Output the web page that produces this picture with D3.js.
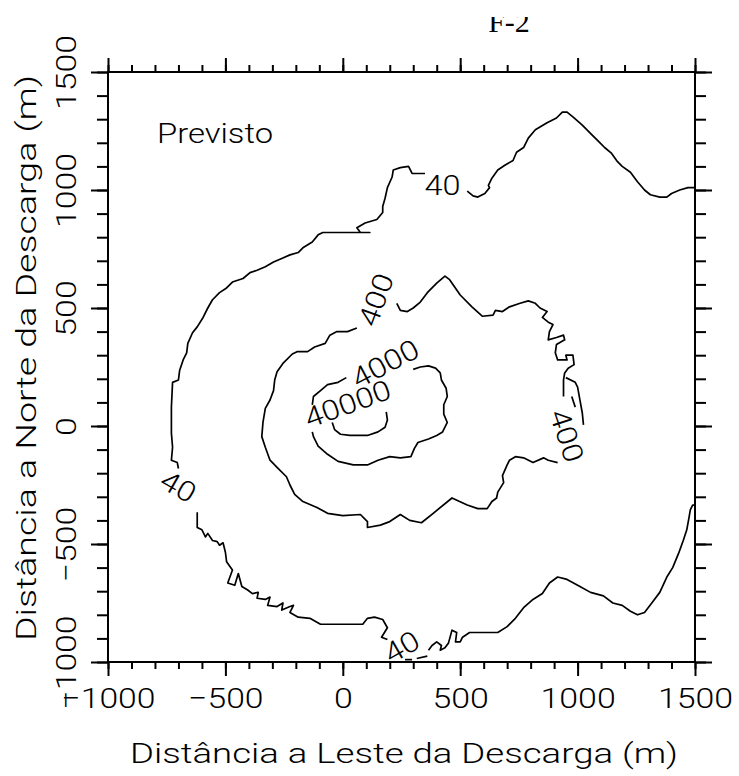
<!DOCTYPE html>
<html>
<head>
<meta charset="utf-8">
<script src="https://cdn.jsdelivr.net/npm/d3@7"></script>
<style>
  html, body { margin: 0; padding: 0; background: #fff; }
  svg { display: block; }
  .lbl { font-family: Roboto, "DejaVu Sans", sans-serif; font-weight: 300; fill: #000; }
</style>
</head>
<body>
<svg id="chart" width="739" height="776"></svg>
<script>
// ---------------- data (metres) ----------------
const chartTitle = "F-2";
const panelLabel = "Previsto";
const xAxisTitle = "Distância a Leste da Descarga (m)";
const yAxisTitle = "Distância a Norte da Descarga (m)";
const xDomain = [-1000, 1500];
const yDomain = [-1000, 1500];
const xTickValues = [-1000, -500, 0, 500, 1000, 1500];
const yTickValues = [-1000, -500, 0, 500, 1000, 1500];

// contour level 40 (outer), split at its labels
const contour40a = [[1500,1010],[1470,1010],[1435,1000],[1400,985],[1380,970],[1350,970],[1310,980],[1285,1000],[1255,1035],[1225,1075],[1190,1100],[1170,1120],[1145,1155],[1115,1180],[1085,1210],[1060,1235],[1020,1275],[980,1310],[955,1330],[935,1330],[910,1305],[870,1285],[820,1255],[790,1220],[770,1180],[740,1160],[725,1125],[690,1105],[660,1085],[635,1050],[620,1020],[625,1010],[605,985],[575,970],[555,975],[530,995]];
const contour40b = [[350,1070],[335,1070],[295,1070],[280,1100],[245,1095],[215,1085],[210,1055],[190,1010],[180,965],[170,930],[170,905],[145,875],[95,860],[60,840],[75,820],[115,820],[-85,820],[-105,810],[-130,780],[-170,755],[-190,735],[-225,725],[-260,710],[-295,695],[-330,675],[-365,660],[-395,650],[-425,625],[-470,610],[-495,585],[-525,565],[-555,535],[-575,500],[-595,460],[-620,420],[-640,395],[-660,350],[-665,310],[-680,280],[-695,235],[-700,195],[-725,185],[-730,80],[-730,-30],[-725,-90],[-730,-145],[-705,-155],[-700,-180]];
const contour40c = [[-620,-365],[-620,-430],[-600,-440],[-585,-470],[-575,-455],[-555,-485],[-535,-490],[-525,-505],[-510,-495],[-500,-535],[-495,-575],[-470,-610],[-490,-665],[-460,-675],[-445,-625],[-430,-680],[-405,-695],[-385,-710],[-360,-705],[-365,-730],[-330,-735],[-310,-725],[-320,-760],[-280,-765],[-255,-750],[-260,-780],[-225,-765],[-210,-760],[-225,-790],[-190,-810],[-140,-815],[-95,-840],[85,-840],[105,-815],[135,-810],[170,-820],[190,-855],[165,-895],[190,-905]];
const contour40d = [[265,-990],[295,-990]];
const contour40e = [[315,-985],[360,-975]];
const contour40f = [[365,-950],[380,-930],[400,-915],[420,-930],[415,-950],[435,-940],[450,-920],[465,-865],[485,-875],[480,-915],[500,-915],[510,-895],[540,-875],[570,-875],[660,-875],[700,-850],[735,-815],[770,-770],[810,-735],[850,-710],[880,-665],[915,-640],[955,-650],[1010,-680],[1055,-705],[1110,-720],[1150,-750],[1190,-760],[1225,-785],[1255,-800],[1285,-790],[1320,-745],[1350,-705],[1380,-640],[1405,-600],[1430,-540],[1450,-485],[1465,-440],[1475,-385],[1480,-355],[1490,-335],[1500,-335]];

// contour level 400
const contour400a = [[230,520],[245,490],[275,485],[300,500],[330,525],[360,565],[400,605],[435,635],[455,620],[500,555],[550,505],[595,465],[640,470],[650,490],[680,485],[710,505],[755,520],[790,530],[820,520],[840,500],[870,485],[850,460],[875,440],[895,430],[880,400],[875,365],[910,375],[940,385],[945,365],[910,345],[905,310],[915,280],[955,280],[950,300],[980,300],[985,260],[960,245],[945,225],[940,195],[940,125]];
const contour400b = [[950,205],[990,185],[1000,165],[1010,110],[1020,55],[1025,5]];
const contour400c = [[975,125],[990,80]];
const contour400d = [[915,-155],[875,-145],[855,-135],[810,-155],[770,-135],[735,-130],[710,-145],[700,-165],[680,-210],[685,-240],[660,-280],[655,-305],[635,-320],[615,-350],[575,-350],[530,-335],[465,-305],[385,-370],[335,-410],[285,-400],[245,-375],[200,-405],[160,-420],[105,-430],[105,-405],[75,-375],[0,-380],[-65,-370],[-110,-345],[-170,-320],[-205,-290],[-225,-250],[-240,-215],[-280,-175],[-310,-145],[-330,-90],[-345,-45],[-340,15],[-330,75],[-310,110],[-295,150],[-290,195],[-280,230],[-255,265],[-215,305],[-195,315],[-150,315],[-120,335],[-75,350],[-55,385],[-25,400],[20,400],[60,415]];

// contour level 4000
const contour4000a = [[300,240],[330,250],[365,255],[395,245],[415,225],[420,195],[440,160],[445,125],[430,90],[430,50],[445,15],[425,-25],[400,-40],[365,-55],[320,-70],[305,-95],[290,-130],[245,-135],[200,-130],[150,-145],[105,-165],[45,-165],[-20,-150],[-65,-120],[-105,-85],[-125,-45],[-130,-25]];
const contour4000b = [[-130,90],[-125,125],[-95,150],[-65,175],[-20,185],[15,205]];

// contour level 40000
const contour40000a = [[-45,15],[-35,-15],[-10,-35],[30,-40],[105,-40],[150,-25],[180,-5],[190,25],[185,60]];

const contourLines = [contour40a, contour40b, contour40c, contour40d, contour40e, contour40f,
                      contour400a, contour400b, contour400c, contour400d,
                      contour4000a, contour4000b, contour40000a];

// contour labels: text, x, y (metres), angle (deg)
const labelTexts  = ["40", "40", "40", "400", "400", "4000", "40000"];
const labelX      = [425, -700, 250, 140, 955, 180, 20];
const labelY      = [1020, -255, -935, 535, -40, 265, 95];
const labelAngles = [0, 30, -30, -70, 72, -28, -20];

// ---------------- drawing ----------------
const svg = d3.select("#chart");
const mL = 108, mR = 695, mT = 72, mB = 662;
const x = d3.scaleLinear().domain(xDomain).range([mL, mR]);
const y = d3.scaleLinear().domain(yDomain).range([mB, mT]);
const FS = 28;
const charW = 18.8;
const fmt = d => d < 0 ? "\u2212" + Math.abs(d) : String(d);

// title (clipped at the top as in the original)
svg.append("clipPath").attr("id", "titleClip")
  .append("rect").attr("x", 0).attr("y", 17).attr("width", 739).attr("height", 40);
svg.append("text")
  .attr("clip-path", "url(#titleClip)")
  .attr("x", 509).attr("y", 32)
  .attr("text-anchor", "middle")
  .style("font-family", "'Liberation Serif', 'Times New Roman', serif")
  .style("font-size", "30px")
  .text(chartTitle);

// minor ticks
const minorX = x.ticks(25), minorY = y.ticks(25);
function styleAxis(g) {
  g.selectAll("path.domain").remove();
  g.selectAll("line").attr("stroke", "#000").attr("stroke-width", 2);
}
svg.append("g").attr("transform", `translate(0,${mT})`)
  .call(d3.axisTop(x).tickValues(minorX).tickSize(7).tickFormat(""))
  .call(styleAxis);
svg.append("g").attr("transform", `translate(0,${mB})`)
  .call(d3.axisBottom(x).tickValues(minorX).tickSize(7).tickFormat(""))
  .call(styleAxis);
svg.append("g").attr("transform", `translate(${mL},0)`)
  .call(d3.axisLeft(y).tickValues(minorY).tickSize(11).tickFormat(""))
  .call(styleAxis);
svg.append("g").attr("transform", `translate(${mR},0)`)
  .call(d3.axisRight(y).tickValues(minorY).tickSize(11).tickFormat(""))
  .call(styleAxis);

// major ticks
svg.append("g").attr("transform", `translate(0,${mT})`)
  .call(d3.axisTop(x).tickValues(xTickValues).tickSize(14).tickFormat(""))
  .call(styleAxis);
svg.append("g").attr("transform", `translate(${mR},0)`)
  .call(d3.axisRight(y).tickValues(yTickValues).tickSize(17).tickFormat(""))
  .call(styleAxis);

const gx = svg.append("g").attr("transform", `translate(0,${mB})`)
  .call(d3.axisBottom(x).tickValues(xTickValues).tickSize(14).tickFormat(fmt))
  .call(styleAxis);
gx.selectAll("text")
  .attr("class", "lbl")
  .attr("y", 708 - mB).attr("dy", 0)
  .style("font-size", FS + "px")
  .attr("textLength", d => fmt(d).length * charW)
  .attr("lengthAdjust", "spacingAndGlyphs");

const gy = svg.append("g").attr("transform", `translate(${mL},0)`)
  .call(d3.axisLeft(y).tickValues(yTickValues).tickSize(17).tickFormat(fmt))
  .call(styleAxis);
gy.selectAll("text")
  .attr("class", "lbl")
  .attr("x", 0).attr("y", 0).attr("dy", 0)
  .attr("text-anchor", "middle")
  .attr("transform", `translate(${76 - mL},0) rotate(-90)`)
  .style("font-size", FS + "px")
  .attr("textLength", d => fmt(d).length * charW)
  .attr("lengthAdjust", "spacingAndGlyphs");

// frame
svg.append("rect")
  .attr("x", mL).attr("y", mT)
  .attr("width", mR - mL).attr("height", mB - mT)
  .attr("fill", "none").attr("stroke", "#000").attr("stroke-width", 2);

// contours
svg.append("clipPath").attr("id", "plotClip")
  .append("rect").attr("x", mL).attr("y", mT)
  .attr("width", mR - mL).attr("height", mB - mT);
const line = d3.line().x(d => x(d[0])).y(d => y(d[1]));
svg.append("g").attr("clip-path", "url(#plotClip)")
  .selectAll("path").data(contourLines).join("path")
  .attr("d", line)
  .attr("fill", "none").attr("stroke", "#000")
  .attr("stroke-width", 1.7).attr("stroke-linejoin", "round");

// contour labels
svg.append("g").selectAll("text").data(labelTexts).join("text")
  .attr("class", "lbl")
  .attr("text-anchor", "middle")
  .attr("dy", "0.36em")
  .attr("transform", (d, i) => `translate(${x(labelX[i])},${y(labelY[i])}) rotate(${labelAngles[i]})`)
  .style("font-size", FS + "px")
  .attr("textLength", d => d.length * 18)
  .attr("lengthAdjust", "spacingAndGlyphs")
  .text(d => d);

// panel label
svg.append("text").attr("class", "lbl")
  .attr("x", 157).attr("y", 143)
  .style("font-size", FS + "px")
  .attr("textLength", 116).attr("lengthAdjust", "spacingAndGlyphs")
  .text(panelLabel);

// axis titles
svg.append("text").attr("class", "lbl")
  .attr("x", 404).attr("y", 763)
  .attr("text-anchor", "middle")
  .style("font-size", FS + "px")
  .attr("textLength", 548).attr("lengthAdjust", "spacingAndGlyphs")
  .text(xAxisTitle);
svg.append("text").attr("class", "lbl")
  .attr("text-anchor", "middle")
  .attr("transform", `translate(36,358) rotate(-90)`)
  .style("font-size", FS + "px")
  .attr("textLength", 566).attr("lengthAdjust", "spacingAndGlyphs")
  .text(yAxisTitle);
</script>
</body>
</html>
